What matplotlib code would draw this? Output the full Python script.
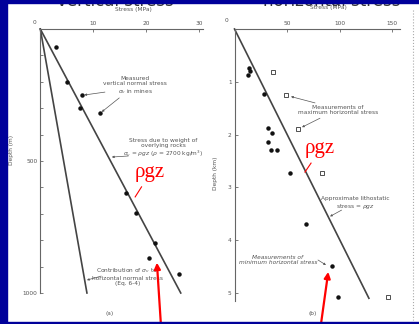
import matplotlib.pyplot as plt
from matplotlib.lines import Line2D
from matplotlib.patches import Rectangle
from matplotlib.ticker import MultipleLocator

W, H = 419, 324

# (a) vertical stress in mines, depth in m
mine_stress = [3.0, 5.0, 7.9, 7.5, 11.3, 16.2, 18.1, 21.6, 20.5, 26.2]
mine_depth = [68, 200, 250, 299, 318, 621, 697, 811, 867, 928]
rgz_depth = [0, 1000]
rgz_stress = [0, 26.5]
contrib_stress = [0, 8.8]

# (b) horizontal stress, depth in km
min_h_stress = [14.1, 14.8, 12.6, 28.1, 31.9, 35.7, 31.9, 34.8, 40.5, 52.9, 68.1, 92.9, 98.6]
min_h_depth = [0.73, 0.79, 0.87, 1.23, 1.875, 1.97, 2.14, 2.29, 2.29, 2.73, 3.69, 4.49, 5.08]
max_h_stress = [36.7, 49.0, 60.5, 83.3, 146.2]
max_h_depth = [0.81, 1.25, 1.89, 2.73, 5.08]
litho_depth = [0, 5.1]
litho_stress = [0, 128]

ink = '#444444'
txt = '#555555'
fs = 4.2


def fx(x):
    return x / W


def fy(y):
    return 1 - y / H


fig = plt.figure(figsize=(W / 100, H / 100), dpi=100)

axL = fig.add_axes([fx(40.3), fy(293), 30.7 * 5.3 / W, 264 / H])
axR = fig.add_axes([fx(234.5), fy(300.9), 158 * 1.05 / W, 271.9 / H])

for ax in (axL, axR):
    ax.patch.set_alpha(0)
    for s in ('bottom', 'right'):
        ax.spines[s].set_visible(False)
    for s in ('top', 'left'):
        ax.spines[s].set_color('#666666')
        ax.spines[s].set_linewidth(0.8)
    ax.xaxis.tick_top()
    ax.tick_params(which='both', direction='in', length=2.5, width=0.6, color='#666666',
                   labelsize=fs, labelcolor=txt, pad=2)
    ax.tick_params(which='minor', length=2)

# left panel
axL.set_xlim(0, 30.7)
axL.set_ylim(1000, 0)
axL.set_xticks([10, 20, 30])
axL.set_yticks([500, 1000])
axL.yaxis.set_minor_locator(MultipleLocator(100))

axL.plot(rgz_stress, rgz_depth, color=ink, lw=1.2, clip_on=False)
axL.plot(contrib_stress, rgz_depth, color=ink, lw=1.2, clip_on=False)
axL.plot(mine_stress, mine_depth, 'o', color='#111111', ms=2.2, clip_on=False)

ann = dict(arrowstyle='-|>', lw=0.5, color='#555555', mutation_scale=3, shrinkA=0, shrinkB=0)
axL.text(17.9, 216, 'Measured\nvertical normal stress\n$\\sigma_v$ in mines', ha='center', va='center',
         fontsize=fs, color=txt, linespacing=1.1)
axL.annotate('', xy=(8.3, 250), xytext=(12.2, 239), arrowprops=ann)
axL.annotate('', xy=(11.6, 314), xytext=(14.9, 261), arrowprops=ann)
axL.text(23.2, 452, 'Stress due to weight of\noverlying rocks\n$\\sigma_v$ = $\\rho gz$ ($\\rho$ = 2700 kg/m$^3$)',
         ha='center', va='center', fontsize=fs, color=txt, linespacing=1.1)
axL.annotate('', xy=(13.5, 485), xytext=(16.6, 481), arrowprops=ann)
axL.text(16.4, 936, 'Contribution of $\\sigma_v$ to\nhorizontal normal stress\n(Eq. 6-4)',
         ha='center', va='center', fontsize=fs, color=txt, linespacing=1.1)
axL.annotate('', xy=(8.8, 951), xytext=(11.5, 936), arrowprops=ann)

axL.text(20.7, 561, '\u03c1gz', ha='center', va='baseline', color='red', fontsize=15,
         family='Liberation Serif')
axL.plot([17.9, 19.1], [636, 598], color='red', lw=0.8)
axL.annotate('', xy=(22.0, 885), xycoords='data', xytext=(161, -2), textcoords='figure pixels',
             arrowprops=dict(arrowstyle='-|>', lw=1.6, color='red', mutation_scale=9,
                             shrinkA=0, shrinkB=0), annotation_clip=False)

# right panel
axR.set_xlim(0, 158)
axR.set_ylim(5.15, 0)
axR.set_xticks([50, 100, 150])
axR.set_yticks([1, 2, 3, 4, 5])

axR.plot(litho_stress, litho_depth, color=ink, lw=1.2, clip_on=False)
axR.plot(min_h_stress, min_h_depth, 'o', color='#111111', ms=2.2, clip_on=False)
axR.plot(max_h_stress, max_h_depth, 's', mfc='white', mec='#333333', mew=0.6, ms=2.8, clip_on=False)

axR.text(98.6, 1.53, 'Measurements of\nmaximum horizontal stress', ha='center', va='center',
         fontsize=fs, color=txt, linespacing=1.1)
axR.annotate('', xy=(53.8, 1.28), xytext=(76.7, 1.40), arrowprops=ann)
axR.annotate('', xy=(64.3, 1.86), xytext=(81.4, 1.69), arrowprops=ann)
axR.text(114.8, 3.30, 'Approximate lithostatic\nstress = $\\rho gz$', ha='center', va='center',
         fontsize=fs, color=txt, linespacing=1.1)
axR.annotate('', xy=(91.0, 3.55), xytext=(102.0, 3.43), arrowprops=ann)
axR.text(41.4, 4.37, 'Measurements of\nminimum horizontal stress', ha='center', va='center',
         fontsize=fs, color=txt, linespacing=1.1, style='italic')
axR.annotate('', xy=(87.1, 4.47), xytext=(79.5, 4.375), arrowprops=ann)

axR.text(81.4, 2.35, '\u03c1gz', ha='center', va='baseline', color='red', fontsize=15,
         family='Liberation Serif')
axR.plot([67.1, 72.9], [2.71, 2.54], color='red', lw=0.8)
axR.annotate('', xy=(89.3, 4.60), xycoords='data', xytext=(320.7, -2), textcoords='figure pixels',
             arrowprops=dict(arrowstyle='-|>', lw=1.6, color='red', mutation_scale=9,
                             shrinkA=0, shrinkB=0), annotation_clip=False)

# axis titles and loose labels
fig.text(fx(133), fy(10), 'Stress (MPa)', ha='center', va='center', fontsize=fs, color=txt)
fig.text(fx(328), fy(8), 'Stress (MPa)', ha='center', va='center', fontsize=fs, color=txt)
fig.text(fx(34), fy(23), '0', ha='center', va='center', fontsize=fs, color=txt)
fig.text(fx(226), fy(21), '0', ha='center', va='center', fontsize=fs, color=txt)
fig.text(fx(11), fy(150), 'Depth (m)', ha='center', va='center', rotation=90, fontsize=fs, color=txt)
fig.text(fx(215), fy(173), 'Depth (km)', ha='center', va='center', rotation=90, fontsize=fs, color=txt)
fig.text(fx(110), fy(314), '(a)', ha='center', va='center', fontsize=fs, color=txt)
fig.text(fx(313), fy(314), '(b)', ha='center', va='center', fontsize=fs, color=txt)

# slide headings, mostly hidden under the frame
fig.text(fx(57), fy(6.5), 'vertical stress', ha='left', va='baseline', fontsize=12, color='#333333')
fig.text(fx(263), fy(6.5), 'horizontal stress', ha='left', va='baseline', fontsize=12, color='#333333')

# page edge of the scan
fig.add_artist(Line2D([fx(413), fx(413)], [fy(10), fy(320)], color='#aaaaaa', lw=0.8, ls=':'))

# blue frame
frame = '#00009a'
fig.add_artist(Rectangle((0, 0), fx(7), 1, transform=fig.transFigure, color=frame, zorder=10))
fig.add_artist(Rectangle((0, fy(3)), 1, 3 / H, transform=fig.transFigure, color=frame, zorder=10))
fig.add_artist(Rectangle((0, 0), 1, 2 / H, transform=fig.transFigure, color=frame, zorder=10))

fig.savefig('out.png', dpi=100)
